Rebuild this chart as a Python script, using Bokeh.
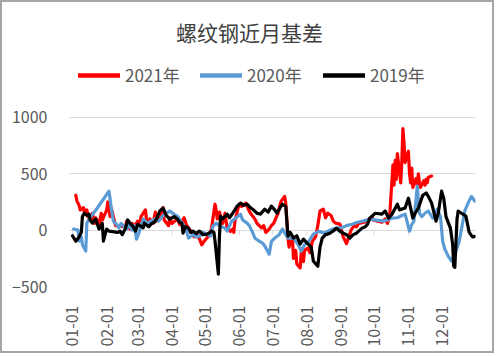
import math
from datetime import date
from bokeh.plotting import figure
from bokeh.models import Range1d, FixedTicker, Legend, LegendItem, Label
from bokeh.embed import file_html
from bokeh.resources import INLINE

# ---------------- data ----------------
month_ticks = ["01-01", "02-01", "03-01", "04-01", "05-01", "06-01",
               "07-01", "08-01", "09-01", "10-01", "11-01", "12-01"]
y_ticks = [-500, 0, 500, 1000]

dates_2021 = ["01-04", "01-05", "01-07", "01-08", "01-11", "01-12", "01-14", "01-15", "01-18", "01-19",
              "01-21", "01-22", "01-25", "01-27", "01-28", "02-01", "02-02", "02-04", "02-05", "02-08",
              "02-09", "02-18", "02-19", "02-22", "02-24", "02-26", "03-01", "03-03", "03-04", "03-08",
              "03-09", "03-11", "03-12", "03-15", "03-17", "03-18", "03-22", "03-24", "03-25", "03-29",
              "03-30", "04-01", "04-06", "04-08", "04-12", "04-14", "04-16", "04-19", "04-21", "04-23",
              "04-26", "04-28", "04-30", "05-06", "05-07", "05-10", "05-11", "05-12", "05-14", "05-17",
              "05-19", "05-21", "05-24", "05-26", "05-27", "05-28", "05-31", "06-01", "06-03", "06-07",
              "06-09", "06-11", "06-15", "06-17", "06-21", "06-23", "06-25", "06-28", "06-30", "07-02",
              "07-06", "07-08", "07-09", "07-12", "07-13", "07-15", "07-16", "07-19", "07-20", "07-22",
              "07-23", "07-26", "07-27", "07-29", "07-30", "08-02", "08-04", "08-06", "08-09", "08-11",
              "08-13", "08-16", "08-18", "08-20", "08-23", "08-25", "08-27", "08-31", "09-03", "09-06",
              "09-08", "09-10", "09-13", "09-15", "09-17", "09-22", "09-24", "09-27", "09-29", "09-30",
              "10-08", "10-11", "10-13", "10-15", "10-18", "10-19", "10-20", "10-21", "10-22", "10-25",
              "10-26", "10-27", "10-28", "10-29", "11-01", "11-02", "11-03", "11-04", "11-05", "11-08",
              "11-09", "11-10", "11-11", "11-12", "11-15", "11-16", "11-17", "11-18", "11-19", "11-22"]
basis_2021 = [310, 260, 220, 180, 200, 140, 180, 120, 100, 150,
              60, 110, 50, 150, 90, 180, 250, 120, 200, 80,
              40, 30, 80, 10, 60, 30, 80, 40, 120, 180,
              90, 40, 100, 60, 160, 80, 120, 200, 90, 40,
              110, 60, 100, 50, 110, 50, 20, -20, -60, -30,
              -80, -130, -100, -30, 30, 230, 180, 100, 160, 60,
              150, 20, -10, 10, -20, 80, 200, 230, 210, 240,
              190, 150, 100, 60, 20, 40, -20, 10, 40, 60,
              150, 230, 260, 300, 240, -70, -150, -60, -250, -180,
              -300, -335, -200, -280, -180, -160, -200, -100, -60, 40,
              170, 186, 110, 150, 130, 80, 62, 53, -60, -120,
              -60, 0, 40, 30, 60, 70, 80, 100, 120, 90,
              70, 100, 60, 120, 580, 400, 620, 450, 680, 420,
              600, 900, 780, 600, 700, 500, 420, 550, 380, 460,
              400, 500, 420, 380, 440, 400, 450, 420, 470, 480]

dates_2020 = ["01-02", "01-06", "01-07", "01-09", "01-10", "01-13", "01-14", "01-16", "01-20", "01-23",
              "02-03", "02-04", "02-05", "02-07", "02-10", "02-12", "02-14", "02-17", "02-19", "02-21",
              "02-24", "02-26", "02-28", "03-02", "03-04", "03-06", "03-10", "03-13", "03-17", "03-20",
              "03-24", "03-27", "03-30", "04-03", "04-06", "04-09", "04-11", "04-14", "04-16", "04-20",
              "04-23", "04-26", "04-29", "05-06", "05-08", "05-11", "05-14", "05-19", "05-21", "05-25",
              "06-02", "06-04", "06-08", "06-10", "06-13", "06-15", "06-19", "06-22", "06-24", "06-28",
              "06-30", "07-03", "07-07", "07-10", "07-13", "07-15", "07-20", "07-24", "07-27", "07-30",
              "08-03", "08-07", "08-12", "08-17", "08-22", "08-27", "09-01", "09-06", "09-11", "09-16",
              "09-21", "09-27", "10-09", "10-13", "10-17", "10-22", "10-26", "10-29", "11-02", "11-04",
              "11-06", "11-09", "11-11", "11-13", "11-16", "11-19", "11-23", "11-27", "11-30", "12-02",
              "12-04", "12-07", "12-10", "12-14", "12-17", "12-22", "12-25", "12-28", "12-31"]
basis_2020 = [10, 0, -98, -60, -130, -186, 62, 100, 150, 190,
              346, 280, 200, 80, 50, 20, 60, 30, 10, 50,
              0, 40, -80, -30, 40, 98, 60, 80, 100, 80,
              130, 150, 170, 140, 124, 80, 53, 0, -70, -40,
              -60, -53, -20, -53, 35, 62, 40, 18, -9, 80,
              142, 90, 62, 40, -20, -70, -98, -115, -140, -213,
              -100, -70, -40, 9, -40, -71, -70, -124, -186, -130,
              -98, -35, -10, -27, 0, 18, 20, 40, 53, 70,
              80, 98, 80, 90, 107, 110, 130, 142, -9, 50,
              80, 390, 150, 120, 150, 170, 107, 186, 120, -100,
              -169, -230, -275, -186, -98, 170, 240, 300, 258]

dates_2019 = ["01-01", "01-04", "01-07", "01-09", "01-10", "01-12", "01-14", "01-16", "01-17", "01-19",
              "01-22", "01-24", "01-25", "01-28", "01-29", "01-31", "02-01", "02-03", "02-11", "02-13",
              "02-15", "02-18", "02-20", "02-22", "02-25", "02-27", "03-01", "03-04", "03-06", "03-07",
              "03-11", "03-14", "03-16", "03-18", "03-21", "03-24", "03-26", "03-27", "03-30", "04-03",
              "04-06", "04-08", "04-10", "04-11", "04-13", "04-16", "04-18", "04-20", "04-23", "04-26",
              "04-29", "05-03", "05-07", "05-09", "05-10", "05-13", "05-14", "05-15", "05-17", "05-21",
              "05-23", "05-26", "05-28", "05-30", "06-02", "06-05", "06-08", "06-11", "06-13", "06-17",
              "06-20", "06-24", "06-27", "06-30", "07-03", "07-05", "07-08", "07-10", "07-13", "07-15",
              "07-17", "07-20", "07-23", "07-26", "07-29", "08-01", "08-05", "08-07", "08-11", "08-13",
              "08-15", "08-18", "08-20", "08-22", "08-26", "08-28", "08-31", "09-03", "09-06", "09-09",
              "09-12", "09-15", "09-20", "09-23", "09-25", "09-27", "10-02", "10-08", "10-11", "10-14",
              "10-17", "10-22", "10-24", "10-29", "11-01", "11-05", "11-07", "11-10", "11-14", "11-17",
              "11-19", "11-22", "11-26", "11-28", "12-01", "12-03", "12-05", "12-09", "12-11", "12-12",
              "12-13", "12-15", "12-16", "12-19", "12-23", "12-26", "12-29", "12-31"]
basis_2019 = [-50, -98, -60, -20, 124, 150, 130, 142, 90, 62,
              98, 40, 9, 60, -98, -20, 9, -9, -20, -9,
              -40, 18, 90, 62, 30, -9, 50, 35, 20, 62,
              30, 62, 70, 98, 170, 196, 150, 130, 98, 120,
              98, 70, 62, -27, 30, 18, -20, -9, -30, -9,
              -40, -35, -9, -20, -98, -390, -50, 124, 100, 142,
              110, 150, 180, 213, 240, 220, 230, 200, 186, 150,
              142, 186, 160, 213, 180, 150, 200, 230, 210, -53,
              -20, -70, -50, -124, -80, -110, -150, -275, -320, -150,
              -70, -40, -35, -27, 0, 18, -10, -27, -40, -70,
              -40, -27, 18, 30, 53, 107, 150, 142, 170, 107,
              140, 230, 180, 196, 284, 107, 150, 196, 310, 330,
              300, 240, 80, 150, 346, 280, 120, 18, -124, -320,
              -330, 100, 170, 150, 124, -20, -60, -55]

series = [("2021年", dates_2021, basis_2021, "#FF0000"),
          ("2020年", dates_2020, basis_2020, "#5B9BD5"),
          ("2019年", dates_2019, basis_2019, "#000000")]


def doy(md):
    m, d = md.split("-")
    return (date(2021, int(m), int(d)) - date(2021, 1, 1)).days


FONT = "Noto Sans CJK SC"
TXT = "#595959"

p = figure(width=494, height=353, output_backend="svg", toolbar_location=None,
           title=None,
           x_range=Range1d(-2.7, 364.7), y_range=Range1d(-500, 2020),
           min_border_left=67, min_border_right=21, min_border_top=0,
           min_border_bottom=69)
p.styles = {"border": "2px solid #A6A6A6"}
p.outline_line_color = None
p.background_fill_color = "white"
p.border_fill_color = "white"

p.xgrid.visible = False
p.ygrid.grid_line_color = "#D9D9D9"
p.ygrid.grid_line_width = 1

p.yaxis.ticker = FixedTicker(ticks=y_ticks)
p.yaxis.axis_line_color = None
p.yaxis.major_tick_line_color = None
p.yaxis.minor_tick_line_color = None
p.yaxis.major_label_standoff = 16
p.yaxis.major_label_text_font = FONT
p.yaxis.major_label_text_font_size = "16px"
p.yaxis.major_label_text_color = TXT

tick_x = [doy(t) for t in month_ticks]
p.xaxis.ticker = FixedTicker(ticks=tick_x)
p.xaxis.major_label_overrides = {x: t for x, t in zip(tick_x, month_ticks)}
p.xaxis.axis_line_color = None
p.xaxis.major_tick_line_color = None
p.xaxis.minor_tick_line_color = None
p.xaxis.major_label_orientation = math.pi / 2
p.xaxis.major_label_standoff = 13
p.xaxis.major_label_text_font = FONT
p.xaxis.major_label_text_font_size = "16px"
p.xaxis.major_label_text_color = TXT

# small tick marks on the zero line
p.segment(x0=tick_x, y0=[0] * len(tick_x), x1=tick_x, y1=[-45] * len(tick_x),
          line_color="#D9D9D9", line_width=1)

for name, ds, vals, col in series:
    p.line([doy(d) for d in ds], vals, line_color=col, line_width=3.2,
           line_join="round", line_cap="round")

# title
p.add_layout(Label(x=180, y=255, x_units="screen", y_units="screen",
                   text="螺纹钢近月基差", text_align="center", text_baseline="middle",
                   text_font=FONT, text_font_size="21px", text_color="#404040"))

# legends (one per item, fixed positions); proxy renderers lie outside the visible range
leg_x = [9, 131, 254]
for (name, ds, vals, col), lx in zip(series, leg_x):
    proxy = p.line(x=[-60, -50], y=[0, 0], line_color=col, line_width=4.5, line_cap="round")
    lg = Legend(items=[LegendItem(label=name, renderers=[proxy])],
                location=(lx, 199), orientation="horizontal",
                glyph_width=42, glyph_height=20, label_height=20,
                label_standoff=5, padding=0, margin=0, spacing=0,
                border_line_color=None, background_fill_alpha=0,
                label_text_font=FONT, label_text_font_size="17px",
                label_text_color=TXT, label_text_baseline="middle")
    p.add_layout(lg, "center")

open("out.html", "w").write(file_html(p, INLINE))
